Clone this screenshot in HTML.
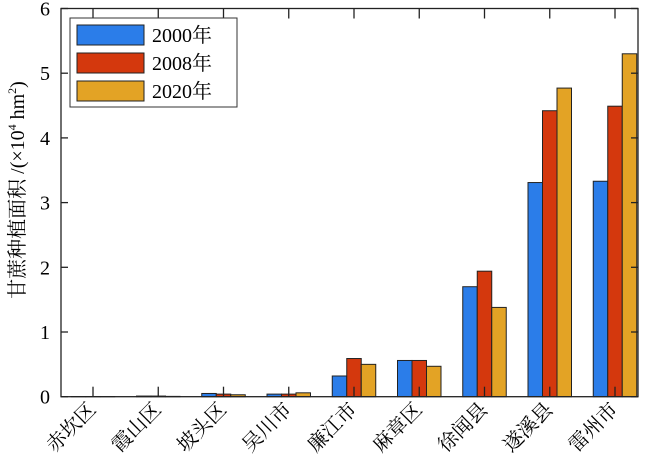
<!DOCTYPE html>
<html><head><meta charset="utf-8"><style>
html,body{margin:0;padding:0;background:#fff}
svg{display:block}
text{font-family:"Liberation Serif","Noto Serif CJK SC",serif;fill:#000}
</style></head><body>
<svg id="chart" width="650" height="475" viewBox="0 0 650 475">
<g id="bars"></g>
<g id="axes"></g>
<text transform="translate(24,190) rotate(-90)" text-anchor="middle" font-size="20">甘蔗种植面积 /(×10<tspan font-size="12" dy="-8">4</tspan><tspan dy="8"> hm</tspan><tspan font-size="12" dy="-8">2</tspan><tspan dy="8">)</tspan></text>
<g>
<rect x="70" y="18" width="167" height="89" fill="#fff" stroke="#333" stroke-width="1"/>
<rect x="77" y="25" width="67" height="20" fill="#2b7de9" stroke="#222"/>
<text x="152" y="42" font-size="20">2000年</text>
<rect x="77" y="53" width="67" height="20" fill="#d4380d" stroke="#222"/>
<text x="152" y="70" font-size="20">2008年</text>
<rect x="77" y="81" width="67" height="20" fill="#e3a325" stroke="#222"/>
<text x="152" y="98" font-size="20">2020年</text>
</g>
</svg>
<script>
const categories=["赤坎区","霞山区","坡头区","吴川市","廉江市","麻章区","徐闻县","遂溪县","雷州市"];
const s2000=[0.003,0.01,0.05,0.04,0.32,0.56,1.70,3.31,3.33];
const s2008=[0.003,0.01,0.04,0.04,0.59,0.56,1.94,4.42,4.49];
const s2020=[0.002,0.005,0.03,0.06,0.50,0.47,1.38,4.77,5.30];
const yTicks=[0,1,2,3,4,5,6];
const colors=["#2b7de9","#d4380d","#e3a325"];
const L=61,R=638,T=8.5,B=396.7;
const NS="http://www.w3.org/2000/svg";
function y(v){return B-(v/6)*(B-T);}
function xc(i){return 93+i*((615-93)/(categories.length-1));}
const bw=14.5;
const bars=document.getElementById('bars'),axes=document.getElementById('axes');
function mk(tag,attrs,parent){const e=document.createElementNS(NS,tag);for(const k in attrs)e.setAttribute(k,attrs[k]);parent.appendChild(e);return e;}
[s2000,s2008,s2020].forEach((s,si)=>{s.forEach((v,i)=>{
 const r=mk('rect',{x:xc(i)+(si-1.5)*bw,y:y(v),width:bw,height:B-y(v),fill:colors[si],stroke:'#222','stroke-width':1},bars);
 
 
});});
const frame=mk('rect',{x:L,y:T,width:R-L,height:B-T,fill:'none',stroke:'#222','stroke-width':1.3},axes);


yTicks.forEach(t=>{
 mk('line',{x1:L,x2:L+7,y1:y(t),y2:y(t),stroke:'#222','stroke-width':1.3},axes);
 mk('line',{x1:R,x2:R-7,y1:y(t),y2:y(t),stroke:'#222','stroke-width':1.3},axes);
 const tx=mk('text',{x:L-11,y:y(t)+7,'text-anchor':'end','font-size':20},axes);
 tx.textContent=t;
 
 
});
categories.forEach((c,i)=>{
 const x=xc(i);
 mk('line',{x1:x,x2:x,y1:B,y2:B-10,stroke:'#222','stroke-width':1.3},axes);
 mk('line',{x1:x,x2:x,y1:T,y2:T+10,stroke:'#222','stroke-width':1.3},axes);
 const tx=mk('text',{x:x+4,y:B+14,'text-anchor':'end','font-size':20,transform:`rotate(-45 ${x+4} ${B+14})`},axes);
 tx.textContent=c;
 
 
});
</script>
</body></html>
